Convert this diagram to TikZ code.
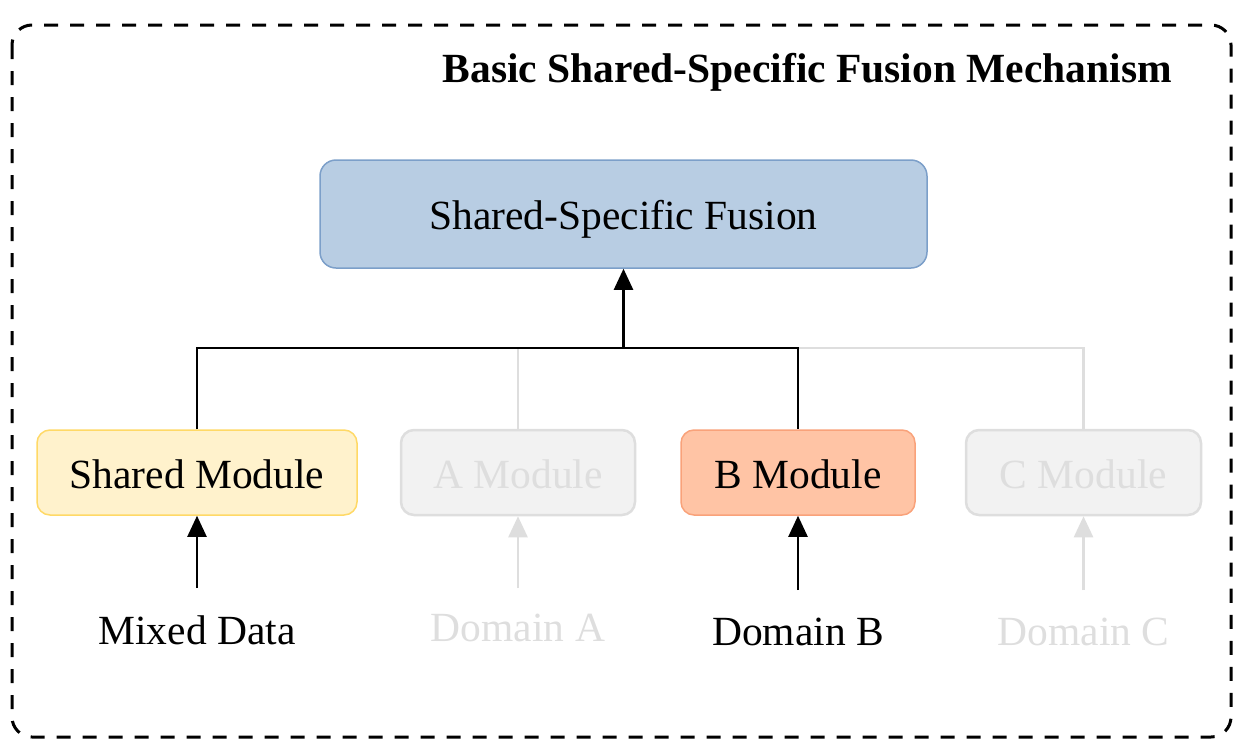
\documentclass[tikz,border=0pt]{standalone}
\usepackage{fontspec}
\setmainfont{Liberation Serif}
\usetikzlibrary{arrows.meta}
\definecolor{fusfill}{HTML}{B8CDE3}
\definecolor{fusdraw}{HTML}{7C9FC9}
\definecolor{shfill}{HTML}{FFF2CC}
\definecolor{shdraw}{HTML}{FFD966}
\definecolor{bfill}{HTML}{FFC4A5}
\definecolor{bdraw}{HTML}{F9A27A}
\definecolor{gfill}{HTML}{F2F2F2}
\definecolor{gline}{HTML}{DEDEDE}
\newcommand{\lowerby}[2]{\raisebox{-#1}[\height][\depth]{#2}}
\tikzset{
  box/.style={rectangle, rounded corners=13pt, minimum height=85pt, inner sep=0pt, line width=1.5pt,
    font=\fontsize{41.5}{50}\selectfont, text=black},
  graybox/.style={box, fill=gfill, draw=gline, line width=2.5pt, text=gline},
  label/.style={inner sep=0pt, font=\fontsize{41.5}{50}\selectfont, text=black},
  conn/.style={line width=2.2pt, draw=black},
  gconn/.style={line width=2.5pt, draw=gline},
  arr/.style={-{Triangle[width=19pt,length=21pt]}},
}
\begin{document}
\begin{tikzpicture}[x=1pt,y=-1pt]
\useasboundingbox (0,0) rectangle (1233,739);
\draw[line width=3pt, dash pattern=on 14pt off 12pt, rounded corners=20pt] (12,25) rectangle (1231,737);
\node[label, font=\fontsize{41.5}{50}\selectfont\bfseries, anchor=east] (title) at (1172,72) {Basic Shared-Specific Fusion Mechanism};
\node[box, fill=fusfill, draw=fusdraw, minimum width=607pt, minimum height=108pt, rounded corners=16pt] (fus) at (623.5,214) {\lowerby{5pt}{Shared-Specific Fusion}};
\coordinate (j) at (623.5,348);
\node[graybox, minimum width=234pt] (amod) at (518,472.5) {\lowerby{2pt}{A Module}};
\node[graybox, minimum width=235pt] (cmod) at (1083.5,472.5) {\lowerby{2pt}{C Module}};
\node[box, fill=shfill, draw=shdraw, minimum width=320pt] (smod) at (197,472.5) {\lowerby{2pt}{Shared Module}};
\node[box, fill=bfill, draw=bdraw, minimum width=234pt] (bmod) at (798,472.5) {\lowerby{2pt}{B Module}};
\draw[gconn] (amod.north) -- (518,348) -- (1083.5,348) -- (cmod.north);
\draw[conn] (smod.north) -- (197,348) -- (798,348) -- (bmod.north);
\draw[conn, arr] (j) -- (fus.south);
% inputs
\node[label] (mixed) at (197,630) {Mixed Data};
\node[label, text=gline] (da) at (518,628) {Domain A};
\node[label] (db) at (798,632) {Domain B};
\node[label, text=gline] (dc) at (1083.5,632) {Domain C};
\coordinate (im) at (197,588);
\coordinate (ia) at (518,588);
\coordinate (ib) at (798,590);
\coordinate (ic) at (1083.5,590);
\draw[conn, arr] (im) -- (smod.south);
\draw[gconn, arr] (ia) -- (amod.south);
\draw[conn, arr] (ib) -- (bmod.south);
\draw[gconn, arr] (ic) -- (cmod.south);
\end{tikzpicture}
\end{document}
